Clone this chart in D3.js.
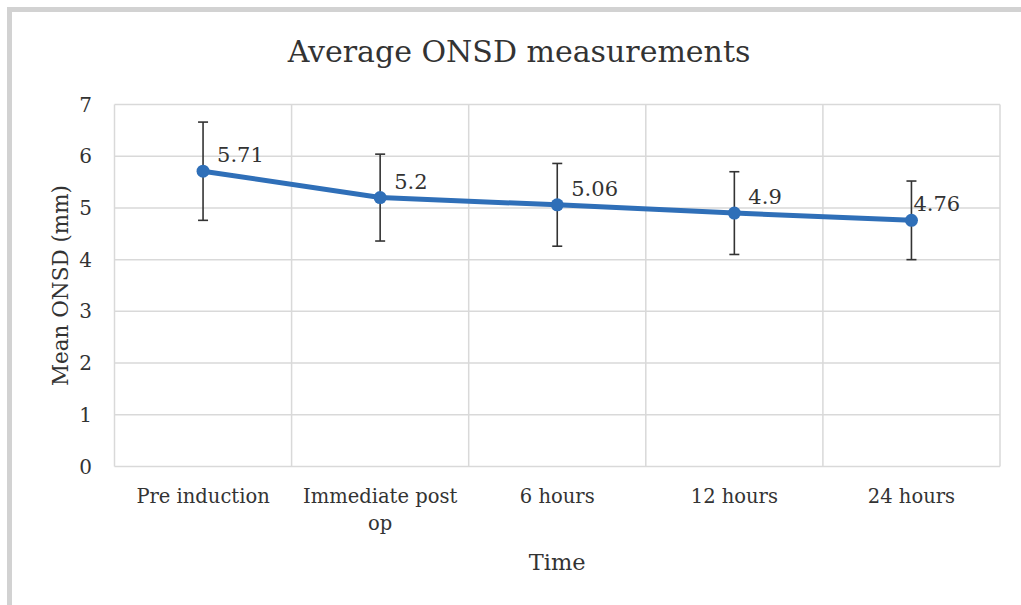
<!doctype html>
<html lang="en">

<head>
  <meta charset="utf-8">
  <style>
    body { margin: 0; background: #fff; }
    text { font-family: "DejaVu Serif", "Liberation Serif", serif; fill: #333; }
  </style>
</head>

<body>
  <script src="https://d3js.org/d3.v7.min.js" charset="utf-8"></script>
  <div id="chart"></div>

  <script>
    // data
    var categories = ["Pre induction", "Immediate post op", "6 hours", "12 hours", "24 hours"];
    var means = [5.71, 5.2, 5.06, 4.9, 4.76];
    var errors = [0.95, 0.84, 0.8, 0.8, 0.76];
    var yTicks = [0, 1, 2, 3, 4, 5, 6, 7];

    var width = 1021, height = 605;
    var plot = { left: 114.5, right: 1000, top: 104.5, bottom: 466.5 };

    var svg = d3.select("#chart")
      .append("svg")
      .attr("width", width)
      .attr("height", height);

    // grey frame round the picture (top and left only)
    svg.append("rect").attr("x", 7).attr("y", 7).attr("width", width - 7).attr("height", 5).attr("fill", "#d2d2d2");
    svg.append("rect").attr("x", 7).attr("y", 7).attr("width", 5).attr("height", height - 7).attr("fill", "#d2d2d2");

    var x = d3.scaleBand()
      .domain(categories)
      .range([plot.left, plot.right]);

    var y = d3.scaleLinear()
      .domain([0, 7])
      .range([plot.bottom, plot.top]);

    var grid = svg.append("g").attr("class", "grid");

    // horizontal gridlines
    grid.selectAll("line.h").data(yTicks)
      .enter().append("line")
      .attr("class", "h")
      .attr("x1", plot.left).attr("x2", plot.right)
      .attr("y1", d => y(d)).attr("y2", d => y(d))
      .style("stroke", "#d9d9d9")
      .style("stroke-width", 1.5);

    // vertical gridlines at band edges
    var edges = categories.map(c => x(c)).concat([plot.right]);
    grid.selectAll("line.v").data(edges)
      .enter().append("line")
      .attr("class", "v")
      .attr("x1", d => d).attr("x2", d => d)
      .attr("y1", plot.top).attr("y2", plot.bottom)
      .style("stroke", "#d9d9d9")
      .style("stroke-width", 1.5);

    // y tick labels
    svg.selectAll("text.ytick").data(yTicks)
      .enter().append("text")
      .attr("class", "ytick")
      .attr("x", 92)
      .attr("y", d => y(d))
      .attr("dy", "0.35em")
      .attr("text-anchor", "end")
      .style("font-size", "20px")
      .text(d => d);

    // x category labels, wrapped like the original
    var cx = d => x(d) + x.bandwidth() / 2;
    svg.selectAll("text.xtick").data(categories)
      .enter().append("text")
      .attr("class", "xtick")
      .attr("text-anchor", "middle")
      .style("font-size", "19.5px")
      .each(function (d) {
        var t = d3.select(this);
        var lines = d === "Immediate post op" ? ["Immediate post", "op"] : [d];
        lines.forEach(function (l, i) {
          t.append("tspan").attr("x", cx(d)).attr("y", 503 + i * 27).text(l);
        });
      });

    // error bars
    var eb = svg.append("g").attr("class", "errorbars");
    categories.forEach(function (c, i) {
      var xc = cx(c);
      var lo = y(means[i] - errors[i]), hi = y(means[i] + errors[i]);
      eb.append("line").attr("x1", xc).attr("x2", xc).attr("y1", lo).attr("y2", hi);
      eb.append("line").attr("x1", xc - 5).attr("x2", xc + 5).attr("y1", lo).attr("y2", lo);
      eb.append("line").attr("x1", xc - 5).attr("x2", xc + 5).attr("y1", hi).attr("y2", hi);
    });
    eb.selectAll("line").style("stroke", "#333").style("stroke-width", 1.6);

    // the series line and markers
    var pts = categories.map((c, i) => [cx(c), y(means[i])]);
    svg.append("path")
      .attr("d", d3.line()(pts))
      .style("fill", "none")
      .style("stroke", "#2f6fb8")
      .style("stroke-width", 5)
      .style("stroke-linejoin", "round");

    svg.selectAll("circle").data(pts)
      .enter().append("circle")
      .attr("cx", d => d[0])
      .attr("cy", d => d[1])
      .attr("r", 6.5)
      .style("fill", "#2f6fb8");

    // data labels
    svg.selectAll("text.val").data(means)
      .enter().append("text")
      .attr("class", "val")
      .attr("x", (d, i) => pts[i][0] + (i === means.length - 1 ? 2 : 14))
      .attr("y", (d, i) => pts[i][1] - 9)
      .style("font-size", "21px")
      .text(d => d);

    // title and axis titles
    svg.append("text")
      .attr("x", 519).attr("y", 62)
      .attr("text-anchor", "middle")
      .style("font-size", "30px")
      .text("Average ONSD measurements");

    svg.append("text")
      .attr("x", (plot.left + plot.right) / 2).attr("y", 570)
      .attr("text-anchor", "middle")
      .style("font-size", "22.5px")
      .text("Time");

    svg.append("text")
      .attr("transform", "translate(68," + (plot.top + plot.bottom) / 2 + ") rotate(-90)")
      .attr("text-anchor", "middle")
      .style("font-size", "21.5px")
      .text("Mean ONSD (mm)");
  </script>
</body>

</html>
